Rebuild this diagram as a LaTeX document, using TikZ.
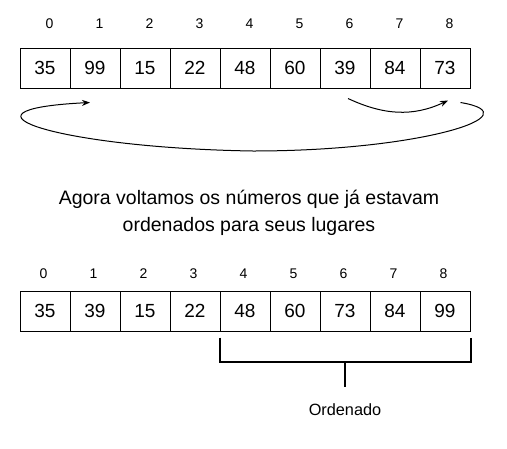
\documentclass[tikz,border=0pt]{standalone}
\usepackage{fontspec}
\setmainfont{Liberation Sans}
\usetikzlibrary{calc}
\usetikzlibrary{positioning}
\usetikzlibrary{arrows.meta}

\begin{document}
\begin{tikzpicture}[x=1pt,y=1pt]
  \tikzstyle{cell node}=[draw,line width=1pt,minimum width=50pt,minimum height=40pt,inner sep=0,font=\fontsize{19}{19}\selectfont]
  \tikzstyle{index node}=[inner sep=0,font=\fontsize{14}{14}\selectfont]
  \tikzset{
swap arrow/.style={line width=1pt,-{Stealth[length=8pt,width=6pt]}},
bracket line/.style={line width=2pt},
caption node/.style={align=center,inner sep=0,font=\fontsize{19.5}{27}\selectfont}
}
  \useasboundingbox (0,0) rectangle (507,-448);
  \foreach \v [count=\i from 0] in {35,99,15,22,48,60,39,84,73}{
    \node[cell node] (t\i) at (45+50*\i,-68) {\v};
    \node[index node,above=19pt of t\i,xshift=4.5pt] (ti\i) {\i};
  }
  \draw[swap arrow] ([xshift=3pt,yshift=-10pt]t6.south) to[out=-25,in=-155] ([xshift=3pt,yshift=-12pt]t8.south);
  \draw[swap arrow] ([xshift=-10pt,yshift=-14pt]t8.south east) .. controls (535,-115) and (420,-151) .. (253,-151) .. controls (60,-148) and (-60,-110) .. ([xshift=-5pt,yshift=-14pt]t1.south);
  \node[caption node] (msg) at (249,-213) {Agora voltamos os números que já estavam\\ordenados para seus lugares};
  \foreach \v [count=\i from 0] in {35,39,15,22,48,60,73,84,99}{
    \node[cell node] (b\i) at (45+50*\i,-311) {\v};
    \node[index node,above=11.7pt of b\i,xshift=-1.5pt] (bi\i) {\i};
  }
  \draw[bracket line] ([yshift=-6pt]b4.south west) -- ([yshift=-30pt]b4.south west) -- ([yshift=-30pt]b8.south east) -- ([yshift=-6pt]b8.south east);
  \coordinate (stem) at ($(b4.south west)!0.5!(b8.south east)+(0,-30)$);
  \draw[bracket line] (stem) -- ++(0,-25) coordinate (stemend);
  \node[below=17pt of stemend,inner sep=0,font=\fontsize{16.3}{16.3}\selectfont] (sorted) {Ordenado};
\end{tikzpicture}
\end{document}
